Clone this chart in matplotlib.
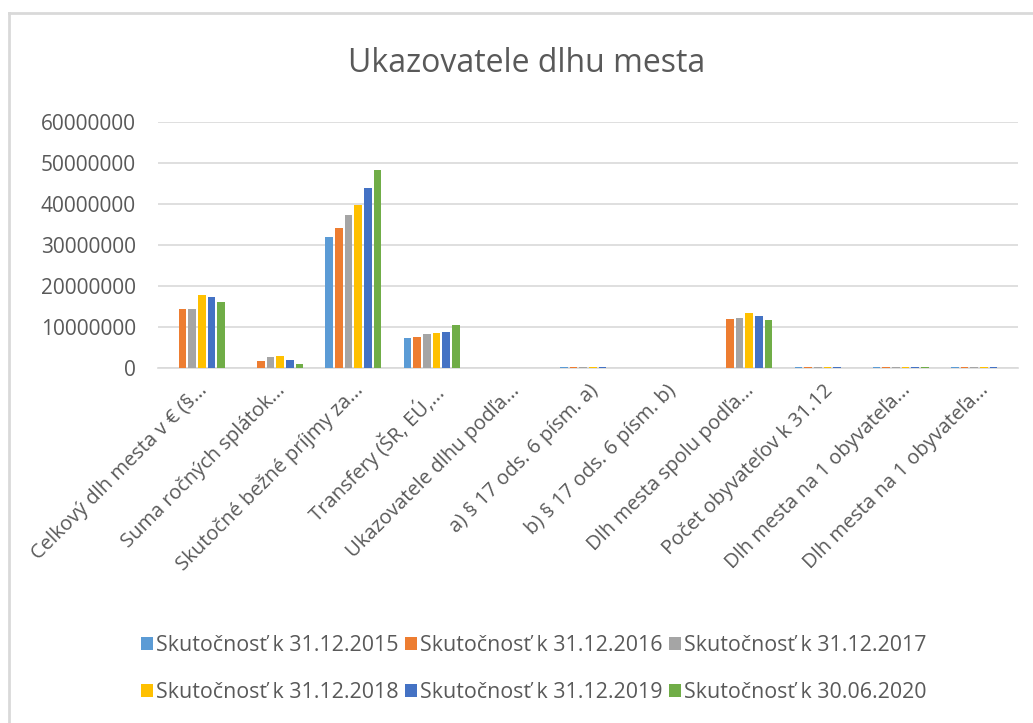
import numpy as np
import matplotlib
matplotlib.use("Agg")
import matplotlib.pyplot as plt
from matplotlib.lines import Line2D
from matplotlib import font_manager

categories = [
    "Celkový dlh mesta v € (§...",
    "Suma ročných splátok...",
    "Skutočné bežné príjmy za...",
    "Transfery (ŠR, EÚ,...",
    "Ukazovatele dlhu podľa...",
    "a) § 17 ods. 6 písm. a)",
    "b) § 17 ods. 6 písm. b)",
    "Dlh mesta spolu podľa...",
    "Počet obyvateľov k 31.12",
    "Dlh mesta na 1 obyvateľa...",
    "Dlh mesta na 1 obyvateľa...",
]

series_names = [
    "Skutočnosť k 31.12.2015",
    "Skutočnosť k 31.12.2016",
    "Skutočnosť k 31.12.2017",
    "Skutočnosť k 31.12.2018",
    "Skutočnosť k 31.12.2019",
    "Skutočnosť k 30.06.2020",
]

nan = np.nan
s2015 = [nan, nan, 32000000, 7200000, nan, 300000, nan, nan, 300000, 300000, 300000]
s2016 = [14300000, 1700000, 34100000, 7500000, nan, 300000, nan, 12000000, 300000, 300000, 300000]
s2017 = [14300000, 2700000, 37300000, 8200000, nan, 300000, nan, 12300000, 300000, 300000, 300000]
s2018 = [17700000, 3000000, 39800000, 8600000, nan, 300000, nan, 13400000, 300000, 300000, 300000]
s2019 = [17400000, 1950000, 43900000, 8850000, nan, 300000, nan, 12800000, 300000, 300000, 300000]
s2020 = [16000000, 1000000, 48300000, 10600000, nan, nan, nan, 11600000, nan, 300000, nan]

series_values = [s2015, s2016, s2017, s2018, s2019, s2020]
colors = ["#5B9BD5", "#ED7D31", "#A5A5A5", "#FFC000", "#4472C4", "#70AD47"]
yticks = [0, 10000000, 20000000, 30000000, 40000000, 50000000, 60000000]

avail = {f.name for f in font_manager.fontManager.ttflist}
base_font = "Open Sans" if "Open Sans" in avail else "DejaVu Sans"
plt.rcParams["font.family"] = [base_font, "DejaVu Sans"]

text_color = "#595959"
grid_color = "#D9D9D9"

fig = plt.figure(figsize=(10.33, 7.23), dpi=100)
ax = fig.add_axes([158 / 1033, 1 - 368 / 723, 860 / 1033, 246 / 723])

n = len(series_values)
x = np.arange(len(categories))
slot = 0.74 / n
for i, (vals, c, name) in enumerate(zip(series_values, colors, series_names)):
    offs = (i - (n - 1) / 2) * slot
    ax.bar(x + offs, vals, width=slot * 0.8, color=c, linewidth=0,
           label=name, zorder=3)

ax.set_xlim(-0.5, len(categories) - 0.5)
ax.set_ylim(0, 60000000)
ax.set_yticks(yticks)
ax.set_yticklabels([str(v) for v in yticks])
ax.yaxis.grid(True, color=grid_color, linewidth=1.2, zorder=0)
ax.set_axisbelow(True)
for s in ["top", "right", "left"]:
    ax.spines[s].set_visible(False)
ax.spines["bottom"].set_color(grid_color)
ax.spines["bottom"].set_linewidth(1.2)
ax.spines["bottom"].set_zorder(0.5)
ax.tick_params(axis="both", length=0, colors=text_color)
ax.tick_params(axis="y", labelsize=15, pad=16)
ax.set_xticks(x)
ax.set_xticklabels(categories, rotation=45, ha="right", va="top",
                   rotation_mode="anchor", fontsize=14.5, color=text_color)
ax.tick_params(axis="x", pad=9)

fig.text(527 / 1033, 1 - 63 / 723, "Ukazovatele dlhu mesta", ha="center",
         va="center", fontsize=23, color=text_color)

handles, labels = ax.get_legend_handles_labels()
order = [0, 3, 1, 4, 2, 5]
leg = fig.legend([handles[k] for k in order], [labels[k] for k in order],
                 loc="center", ncol=3,
                 bbox_to_anchor=(534 / 1033, 1 - 669 / 723),
                 frameon=False, handlelength=0.55, handleheight=0.55,
                 handletextpad=0.15, columnspacing=0.3, labelspacing=1.25,
                 prop={"size": 15.4})
for t in leg.get_texts():
    t.set_color(text_color)

fig.add_artist(Line2D([9 / 1033, 1.0], [1 - 13 / 723, 1 - 13 / 723],
                      color=grid_color, linewidth=2, transform=fig.transFigure))
fig.add_artist(Line2D([9 / 1033, 9 / 1033], [0, 1 - 13 / 723],
                      color=grid_color, linewidth=2, transform=fig.transFigure))

fig.savefig("out.png", dpi=100)
